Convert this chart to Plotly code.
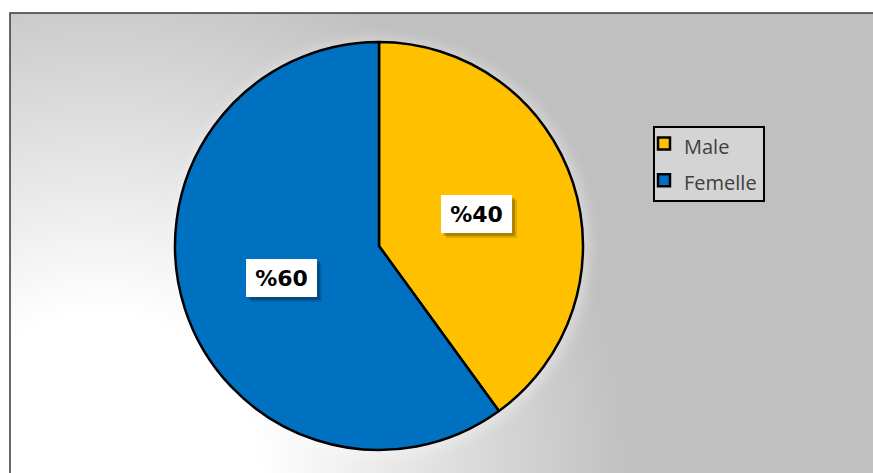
import base64
import math
import plotly.graph_objects as go

# Data
labels = ["Male", "Femelle"]
values = [40, 60]
colors = ["#FFC000", "#0070C0"]

W, H = 873, 473

# Pie placement (pixels)
pie_cx, pie_cy, pie_r = 379, 246, 204
dom_x = [(pie_cx - pie_r) / W, (pie_cx + pie_r) / W]
dom_y = [1 - (pie_cy + pie_r) / H, 1 - (pie_cy - pie_r) / H]

# Chart area frame (pixels)
frame_x0, frame_y0 = 10, 13

# Legend box (pixels)
leg_x0, leg_x1, leg_y0, leg_y1 = 654, 764, 127, 201

# Background: radial gradient from the lower-left plus a soft glow around the pie
img_w, img_h = W - frame_x0, H - frame_y0
svg = f"""<svg xmlns="http://www.w3.org/2000/svg" width="{img_w}" height="{img_h}" viewBox="0 0 {img_w} {img_h}">
<defs>
<radialGradient id="bg" gradientUnits="userSpaceOnUse" cx="{100 - frame_x0}" cy="{H - frame_y0}" r="530">
<stop offset="0" stop-color="#FFFFFF"/>
<stop offset="0.3" stop-color="#FFFFFF"/>
<stop offset="1" stop-color="#C0C0C0"/>
</radialGradient>
<filter id="blur" x="-20%" y="-20%" width="140%" height="140%">
<feGaussianBlur stdDeviation="6"/>
</filter>
</defs>
<rect x="0" y="0" width="{img_w}" height="{img_h}" fill="url(#bg)"/>
<circle cx="{pie_cx - frame_x0 + 2}" cy="{pie_cy - frame_y0 + 2}" r="{pie_r + 5}" fill="#FFFFFF" opacity="0.35" filter="url(#blur)"/>
</svg>"""
svg_uri = "data:image/svg+xml;base64," + base64.b64encode(svg.encode()).decode()

fig = go.Figure(
    go.Pie(
        labels=[f'<span style="font-size:20px">{l}</span>' for l in labels],
        values=values,
        marker=dict(colors=colors, line=dict(color="#000000", width=2.5)),
        sort=False,
        direction="clockwise",
        rotation=0,
        textinfo="none",
        hoverinfo="label+percent",
        domain=dict(x=dom_x, y=dom_y),
    )
)

# Value labels at half radius on each slice's mid-angle
annotations = []
total = sum(values)
cum = 0
for v in values:
    mid = (cum + v / 2) / total * 2 * math.pi
    cum += v
    ax = (pie_cx + 0.5 * pie_r * math.sin(mid)) / W
    ay = 1 - (pie_cy - 0.5 * pie_r * math.cos(mid)) / H
    box = dict(x=ax, y=ay, xref="paper", yref="paper", showarrow=False,
               width=71, height=38, borderpad=0, borderwidth=0,
               xanchor="center", yanchor="middle")
    # soft drop shadow
    annotations.append(dict(box, text=" ", bgcolor="rgba(0,0,0,0.12)", xshift=5, yshift=-5))
    annotations.append(dict(box, text=" ", bgcolor="rgba(0,0,0,0.22)", xshift=3, yshift=-3))
    annotations.append(dict(box, text=f"<b>%{round(v / total * 100)}</b>", bgcolor="#FFFFFF",
                            font=dict(family="DejaVu Sans", size=22, color="#000000")))

fig.update_layout(
    width=W,
    height=H,
    margin=dict(l=0, r=0, t=0, b=0),
    paper_bgcolor="#FFFFFF",
    plot_bgcolor="#FFFFFF",
    showlegend=True,
    legend=dict(
        x=(leg_x0 - 4) / W, y=1 - (leg_y0 - 7) / H, xanchor="left", yanchor="top",
        bgcolor="rgba(0,0,0,0)", borderwidth=0,
        font=dict(family="Open Sans", size=26, color="#404040"),
        indentation=-6,
    ),
    annotations=annotations,
    images=[dict(
        source=svg_uri, xref="paper", yref="paper",
        x=frame_x0 / W, y=1 - frame_y0 / H,
        sizex=img_w / W, sizey=img_h / H,
        xanchor="left", yanchor="top", sizing="stretch", layer="below",
    )],
    shapes=[
        dict(type="rect", xref="paper", yref="paper",
             x0=frame_x0 / W, x1=(W + 5) / W,
             y0=-5 / H, y1=1 - frame_y0 / H,
             line=dict(color="#3A3A3A", width=1.5), fillcolor="rgba(0,0,0,0)", layer="above"),
        dict(type="rect", xref="paper", yref="paper",
             x0=leg_x0 / W, x1=leg_x1 / W,
             y0=1 - leg_y1 / H, y1=1 - leg_y0 / H,
             line=dict(color="#000000", width=2), fillcolor="#D4D4D4", layer="above"),
    ],
)

fig.write_html("out.html", config={"displayModeBar": False})
